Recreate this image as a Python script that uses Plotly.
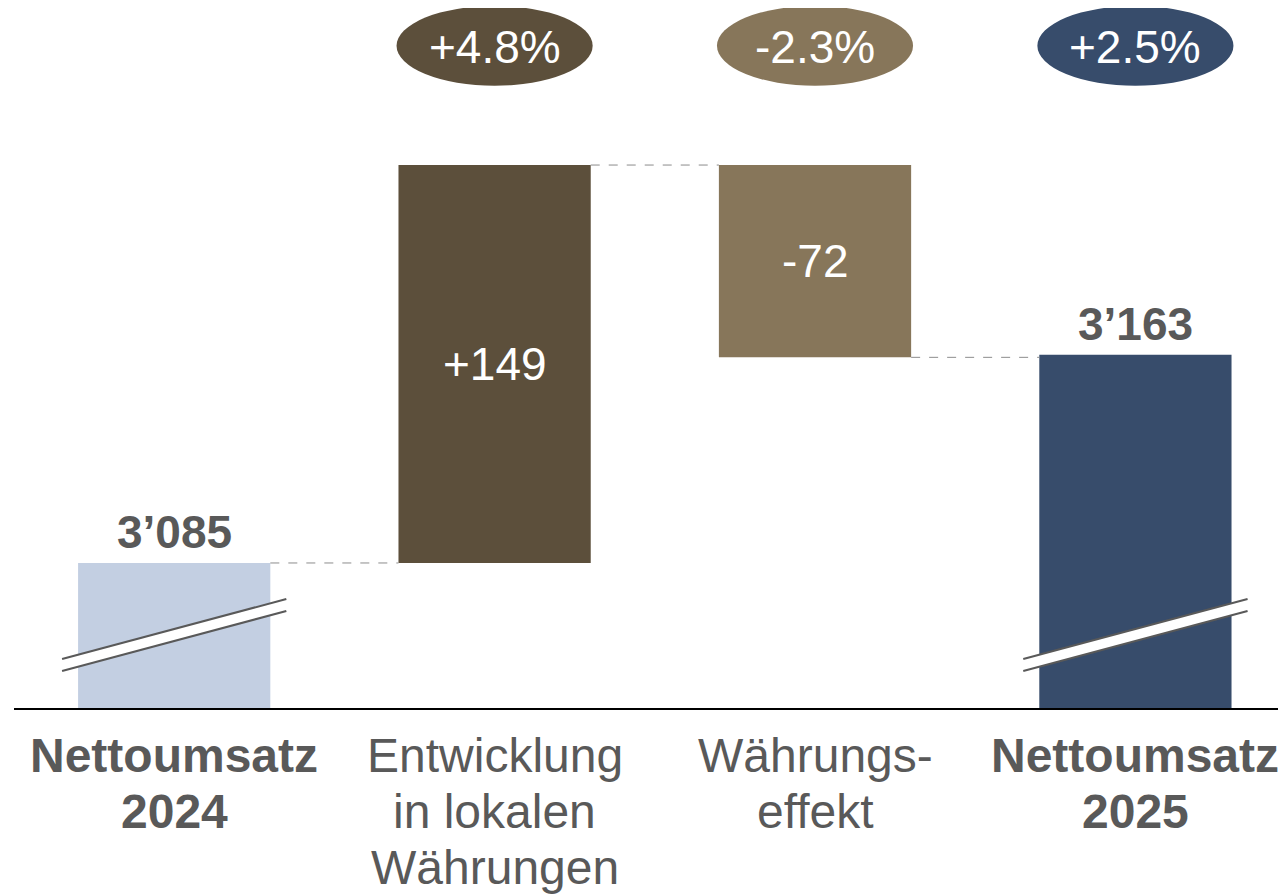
import plotly.graph_objects as go

# ---- data ----
category_lines = [["Nettoumsatz", "2024"],
                  ["Entwicklung", "in lokalen", "Währungen"],
                  ["Währungs-", "effekt"],
                  ["Nettoumsatz", "2025"]]
category_bold = [True, False, False, True]
measures = ["total", "delta", "delta", "total"]
values = [3085, 149, -72, 3163]
value_labels = ["3’085", "+149", "-72", "3’163"]
pct_labels = [None, "+4.8%", "-2.3%", "+2.5%"]
bar_colors = ["#C3CFE2", "#5C4F3B", "#87765A", "#374C6B"]

FONT = "Liberation Sans, Arial, sans-serif"
GRAY = "#595959"
FS = 46
FS_CAT = 48
AXIS_FLOOR = 3030.7
AXIS_TOP = 3292.8
BAR_W = 0.6

# compute bases / heights
bases, heights, levels = [], [], []
level = 0
for m, v in zip(measures, values):
    if m == "total":
        bases.append(0)
        heights.append(v)
        level = v
    else:
        bases.append(level)
        heights.append(v)
        level = level + v
    levels.append(level)

xs = list(range(len(values)))

fig = go.Figure()
fig.add_trace(go.Bar(x=xs, y=heights, base=bases, width=BAR_W,
                     marker=dict(color=bar_colors, line=dict(width=0)),
                     hoverinfo="skip", showlegend=False))

shapes = []
annotations = []

# connectors
for i in range(len(values) - 1):
    shapes.append(dict(type="line", xref="x", yref="y",
                       x0=i + BAR_W / 2, x1=i + 1 - BAR_W / 2,
                       y0=levels[i], y1=levels[i],
                       line=dict(color="#8C8C8C", width=1, dash="dash")))

# value labels
for i, (m, lab) in enumerate(zip(measures, value_labels)):
    if m == "total":
        annotations.append(dict(x=i, y=levels[i], xref="x", yref="y", text="<b>" + lab + "</b>",
                                showarrow=False, yanchor="bottom", yshift=3,
                                font=dict(family=FONT, size=FS, color=GRAY)))
    else:
        mid = bases[i] + heights[i] / 2
        annotations.append(dict(x=i, y=mid, xref="x", yref="y", text=lab,
                                showarrow=False, yanchor="middle",
                                font=dict(family=FONT, size=FS, color="white")))

# percentage pills
for i, p in enumerate(pct_labels):
    if p is None:
        continue
    shapes.append(dict(type="circle", xref="x", yref="paper",
                       x0=i - 0.306, x1=i + 0.306, y0=0.889, y1=1.003,
                       fillcolor=bar_colors[i], line=dict(width=0)))
    annotations.append(dict(x=i, y=0.944, xref="x", yref="paper", text=p,
                            showarrow=False, yanchor="middle",
                            font=dict(family=FONT, size=FS, color="white")))

# axis break markers on total bars
for i, m in enumerate(measures):
    if m != "total":
        continue
    xl, xr = i - 0.35, i + 0.35
    yul, yur, yll, ylr = 0.0700, 0.1557, 0.0529, 0.1386
    shapes.append(dict(type="path", xref="x", yref="paper",
                       path=f"M {xl},{yul} L {xr},{yur} L {xr},{ylr} L {xl},{yll} Z",
                       fillcolor="white", line=dict(width=0)))
    shapes.append(dict(type="line", xref="x", yref="paper", x0=xl, x1=xr, y0=yul, y1=yur,
                       line=dict(color=GRAY, width=2)))
    shapes.append(dict(type="line", xref="x", yref="paper", x0=xl, x1=xr, y0=yll, y1=ylr,
                       line=dict(color=GRAY, width=2)))

# category labels
LINE_H = 56
for i, lines in enumerate(category_lines):
    for j, t in enumerate(lines):
        txt = "<b>" + t + "</b>" if category_bold[i] else t
        annotations.append(dict(x=i, y=0, xref="x", yref="paper", text=txt,
                                showarrow=False, yanchor="middle",
                                yshift=-(47 + j * LINE_H),
                                font=dict(family=FONT, size=FS_CAT, color=GRAY)))

fig.update_layout(
    width=1278, height=888,
    margin=dict(l=6, r=0, t=0, b=188),
    paper_bgcolor="white", plot_bgcolor="white",
    shapes=shapes, annotations=annotations,
    xaxis=dict(range=[-0.5, 3.47], showline=True, linecolor="#000000", linewidth=2,
               showticklabels=False, ticks="", showgrid=False, zeroline=False, fixedrange=True),
    yaxis=dict(range=[AXIS_FLOOR, AXIS_TOP], visible=False, showgrid=False, zeroline=False),
    showlegend=False,
)

fig.write_html("out.html")
